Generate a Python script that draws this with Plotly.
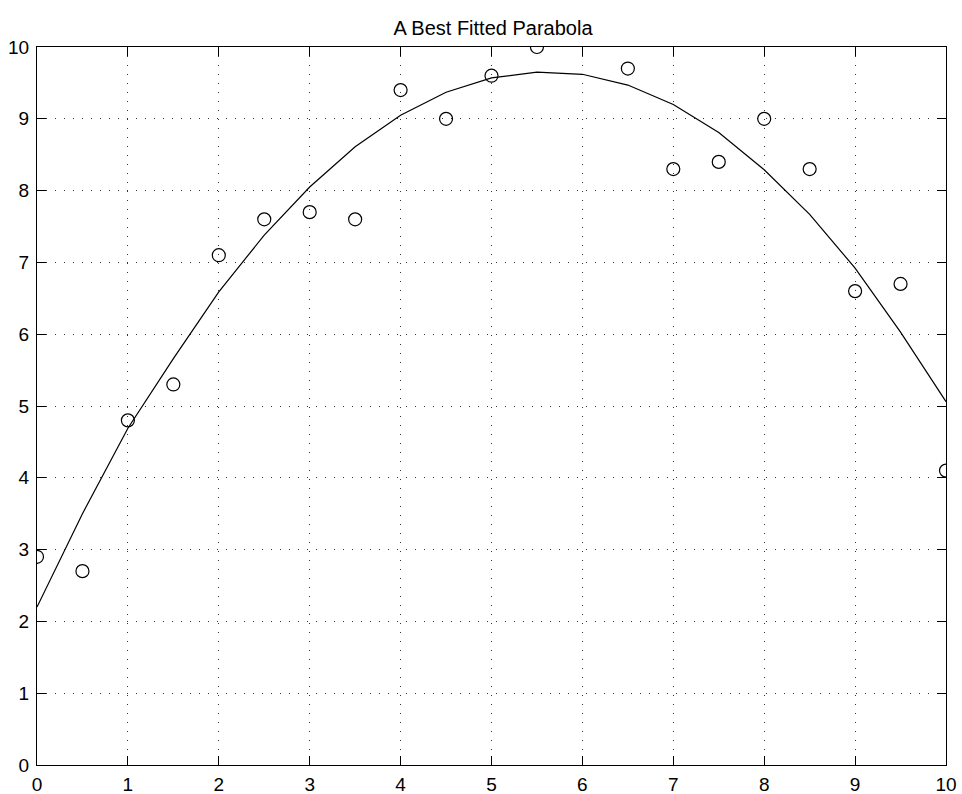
import plotly.graph_objects as go

# Observed data points (x, y) -- point at x=6 lies off the chart (clipped), omitted
data_x = [0, 0.5, 1, 1.5, 2, 2.5, 3, 3.5, 4, 4.5, 5, 5.5, 6.5, 7, 7.5, 8, 8.5, 9, 9.5, 10]
data_y = [2.9, 2.7, 4.8, 5.3, 7.1, 7.6, 7.7, 7.6, 9.4, 9.0, 9.6, 10.0, 9.7, 8.3, 8.4, 9.0, 8.3, 6.6, 6.7, 4.1]

# Fitted parabola, read at the same sampling
fit_x = [0, 0.5, 1, 1.5, 2, 2.5, 3, 3.5, 4, 4.5, 5, 5.5, 6, 6.5, 7, 7.5, 8, 8.5, 9, 9.5, 10]
fit_y = [2.2, 3.5, 4.69, 5.66, 6.59, 7.38, 8.05, 8.61, 9.05, 9.37, 9.57, 9.65, 9.62, 9.47,
         9.2, 8.81, 8.29, 7.67, 6.92, 6.03, 5.06]

tick_vals = [0, 1, 2, 3, 4, 5, 6, 7, 8, 9, 10]
tick_text = ["0", "1", "2", "3", "4", "5", "6", "7", "8", "9", "10"]

FONT = "Liberation Sans, Arial, Helvetica, sans-serif"

fig = go.Figure()
fig.add_trace(go.Scatter(x=fit_x, y=fit_y, mode="lines",
                         line=dict(color="black", width=1.2), showlegend=False))
fig.add_trace(go.Scatter(x=data_x, y=data_y, mode="markers",
                         marker=dict(symbol="circle-open", size=13, color="black",
                                     line=dict(width=1.2, color="black")),
                         showlegend=False))

axis_common = dict(
    range=[0, 10], tickmode="array", tickvals=tick_vals, ticktext=tick_text,
    showline=True, linecolor="black", linewidth=1.3, mirror="ticks",
    ticks="inside", ticklen=9, tickwidth=1, tickcolor="black",
    showgrid=True, gridcolor="#333333", gridwidth=1, griddash="1px,8px",
    zeroline=False, automargin=False,
    tickfont=dict(family=FONT, size=19, color="black"),
)

fig.update_layout(
    width=962, height=794,
    margin=dict(l=37, r=16, t=47, b=29),
    paper_bgcolor="white", plot_bgcolor="white",
    title=dict(text="A Best Fitted Parabola", x=0.5125, xanchor="center",
               xref="container", yref="container", y=1 - 35 / 794, yanchor="bottom",
               font=dict(family=FONT, size=20, color="black")),
    xaxis=dict(**axis_common, ticklabelstandoff=2),
    yaxis=dict(**axis_common, ticklabelstandoff=3),
)

fig.write_html("out.html", config={"displayModeBar": False},
               post_script="document.body.style.margin='0';document.body.style.overflow='hidden';")
